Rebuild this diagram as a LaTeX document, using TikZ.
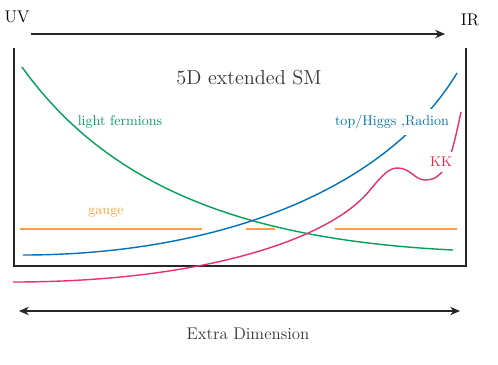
\documentclass[tikz,border=0pt]{standalone}
\usepackage{xcolor}
\usepackage{tikz}
\usetikzlibrary{positioning,arrows.meta}

\definecolor{fermgreen}{RGB}{0,160,90}
\definecolor{topblue}{RGB}{0,114,189}
\definecolor{kkred}{RGB}{232,48,110}
\definecolor{kktext}{RGB}{232,40,70}
\definecolor{gaugeorange}{RGB}{247,160,60}

\tikzset{
  wall/.style={line width=1.2pt,black!85},
  axis/.style={line width=0.9pt,black!85},
  profile/.style={line width=1pt},
  tag/.style={fill=white,inner sep=4pt}
}

\begin{document}
\begin{tikzpicture}[x=0.025cm,y=-0.025cm,>={Stealth[length=7pt,width=6pt]}]
  \useasboundingbox (0,0) rectangle (498,364);

  % Branen
  \node[font=\large] (uv) at (17,17) {UV};
  \node[font=\large] (ir) at (470,20) {IR};
  \coordinate (top start) at (31,34);
  \coordinate (top end) at (445,34);
  \draw[axis,->] (top start) -- (top end);

  % Bulk
  \coordinate (bl) at (14,266);
  \coordinate (br) at (466,266);
  \draw[wall] (14,48) -- (bl) -- (br) -- (466,48);
  \node[font=\Large,text=black!80] (sm) at (249,78) {5D extended SM};

  % Profile
  \draw[profile,gaugeorange] (20,229) -- (202,229);
  \draw[profile,gaugeorange] (246,229) -- (275,229);
  \draw[profile,gaugeorange] (335,229) -- (457,229);

  \draw[profile,fermgreen] (22,67) .. controls (110,190) and (250,240) .. (453,250);

  \draw[profile,topblue] (23,255) .. controls (200,255) and (380,200) .. (457,73);

  \draw[profile,kkred] (13,282) .. controls (200,282) and (330,240) .. (370,190)
    .. controls (385,172) and (390,168) .. (398,168)
    .. controls (410,168) and (415,180) .. (425,180)
    .. controls (432,180) and (436,178) .. (440,174)
    .. controls (450,165) and (455,140) .. (461,112);

  % Labels
  \node[text=fermgreen] (light) at (120,122) {light fermions};
  \node[tag,text=topblue] (heavy) at (392,122) {top/Higgs ,Radion};
  \node[tag,text=kktext] (kk) at (441,162) {KK};
  \node[text=gaugeorange] (gauge) at (106,213) {gauge};

  % Extra dimension
  \coordinate (xd left) at (19,311);
  \coordinate (xd right) at (460,311);
  \draw[axis,<->] (xd left) -- (xd right);
  \node[font=\large,text=black!80] (xd) at (248,334) {Extra Dimension};

\end{tikzpicture}
\end{document}
